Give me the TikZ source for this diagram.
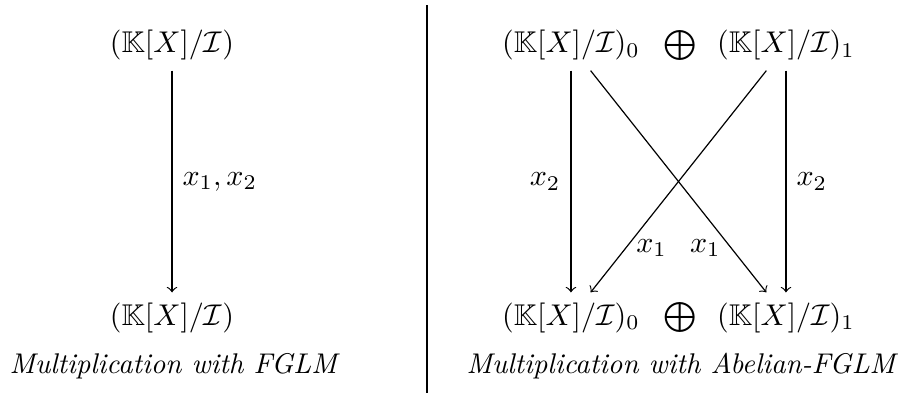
\documentclass[tikz,border=0pt]{standalone}
\usepackage{amssymb}
\usetikzlibrary{calc}
\newcommand{\quot}{(\mathbb{K}[X]/\mathcal{I})}
\tikzset{
  map/.style={->},
  caption/.style={anchor=base, font=\itshape, scale=0.95},
}
\begin{document}
\begin{tikzpicture}[x=1cm,y=1cm]
  \useasboundingbox (0,0) rectangle (10.56,4.618);
  % left: plain FGLM
  \node (lt) at (2.016,4.090) {$\quot$};
  \node (lb) at (2.016,0.891) {$\quot$};
  \draw[map] (lt) -- (lb) node[midway, right] {$x_1, x_2$};
  \node[caption] (lcap) at (2.030,0.246) {Multiplication with FGLM};
  % divider
  \coordinate (dtop) at (5.004,4.559);
  \coordinate (dbot) at (5.004,0.012);
  \draw (dtop) -- (dbot);
  % right: Abelian-FGLM
  \node (t0) at (6.692,4.090) {$\quot_0$};
  \node (tp) at (7.970,4.090) {$\bigoplus$};
  \node (t1) at (9.212,4.090) {$\quot_1$};
  \node (b0) at (6.692,0.891) {$\quot_0$};
  \node (bp) at (7.970,0.891) {$\bigoplus$};
  \node (b1) at (9.212,0.891) {$\quot_1$};
  \draw[map] (t0) -- (b0) node[midway, left] {$x_2$};
  \draw[map] (t1) -- (b1) node[midway, right] {$x_2$};
  \draw[map] ([xshift=0.23cm]t0.south) -- ([xshift=-0.23cm]b1.north)
    node[pos=0.8, left] {$x_1$};
  \draw[map] ([xshift=-0.23cm]t1.south) -- ([xshift=0.23cm]b0.north)
    node[pos=0.8, right] {$x_1$};
  \node[caption] (rcap) at (7.980,0.246) {Multiplication with Abelian-FGLM};
\end{tikzpicture}
\end{document}
